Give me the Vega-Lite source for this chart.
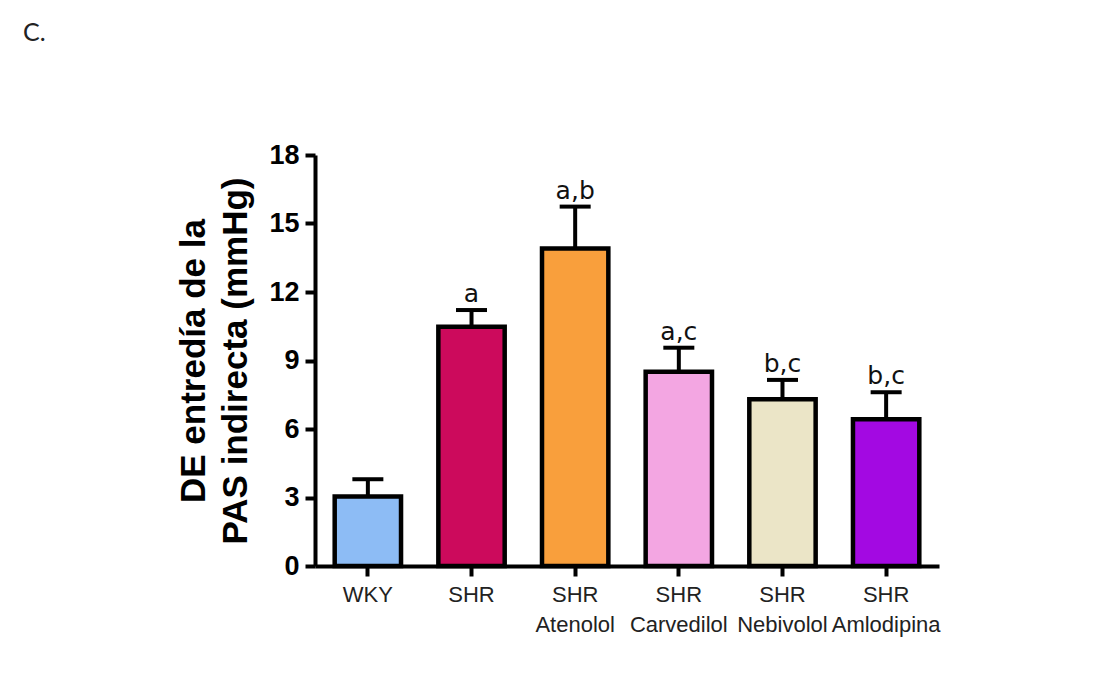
{
  "$schema": "https://vega.github.io/schema/vega-lite/v6.json",
  "autosize": {"type": "none"},
  "padding": {"left": 315, "top": 155, "right": 165, "bottom": 116},
  "width": 624,
  "height": 411,
  "background": "white",
  "config": {"view": {"stroke": null}},
  "title": {"text": "C.", "anchor": "start", "frame": "group", "dx": -292, "dy": -91, "font": "Lato", "fontSize": 25, "fontWeight": "normal", "color": "#222222"},
  "data": {
    "values": [
      {"group": "WKY", "mean": 3.04, "upper": 3.8, "sig": "", "color": "#8dbcf5"},
      {"group": "SHR", "mean": 10.48, "upper": 11.21, "sig": "a", "color": "#cc0a5c"},
      {"group": "SHR|Atenolol", "mean": 13.91, "upper": 15.74, "sig": "a,b", "color": "#f99f3c"},
      {"group": "SHR|Carvedilol", "mean": 8.51, "upper": 9.56, "sig": "a,c", "color": "#f3a6e2"},
      {"group": "SHR|Nebivolol", "mean": 7.3, "upper": 8.15, "sig": "b,c", "color": "#ebe5c7"},
      {"group": "SHR|Amlodipina", "mean": 6.43, "upper": 7.61, "sig": "b,c", "color": "#a309e2"}
    ]
  },
  "encoding": {
    "x": {
      "field": "group",
      "type": "nominal",
      "sort": null,
      "scale": {"paddingInner": 0.36, "paddingOuter": 0.19},
      "axis": {
        "title": null,
        "labelAngle": 0,
        "labelExpr": "split(datum.label, '|')",
        "labelFont": "Liberation Sans",
        "labelFontSize": 22,
        "labelColor": "#222222",
        "labelLineHeight": 30,
        "labelPadding": 8,
        "tickSize": 10,
        "tickWidth": 4,
        "tickColor": "black",
        "domainWidth": 4,
        "domainColor": "black"
      }
    }
  },
  "layer": [
    {
      "mark": {"type": "bar", "stroke": "black", "strokeWidth": 4.5},
      "encoding": {
        "y": {
          "field": "mean",
          "type": "quantitative",
          "scale": {"domain": [0, 18], "nice": false},
          "axis": {
            "title": ["DE entredía de la", "PAS indirecta (mmHg)"],
            "titleFont": "Liberation Sans",
            "titleFontSize": 35,
            "titleFontWeight": "bold",
            "titleColor": "black",
            "titleLineHeight": 42,
            "titlePadding": 15,
            "values": [0, 3, 6, 9, 12, 15, 18],
            "labelFont": "Liberation Sans",
            "labelFontSize": 27,
            "labelFontWeight": "bold",
            "labelColor": "black",
            "labelPadding": 6,
            "tickSize": 10,
            "tickWidth": 4,
            "tickColor": "black",
            "domainWidth": 4,
            "domainColor": "black",
            "grid": false
          }
        },
        "fill": {"field": "color", "type": "nominal", "scale": null}
      }
    },
    {
      "mark": {"type": "rule", "strokeWidth": 4, "color": "black"},
      "encoding": {
        "y": {"field": "mean", "type": "quantitative"},
        "y2": {"field": "upper"}
      }
    },
    {
      "mark": {"type": "tick", "thickness": 4, "size": 31, "color": "black", "opacity": 1},
      "encoding": {
        "y": {"field": "upper", "type": "quantitative"}
      }
    },
    {
      "mark": {"type": "text", "font": "DejaVu Sans", "fontSize": 25, "color": "#111111", "baseline": "alphabetic", "dy": -8},
      "encoding": {
        "y": {"field": "upper", "type": "quantitative"},
        "text": {"field": "sig"}
      }
    }
  ]
}
